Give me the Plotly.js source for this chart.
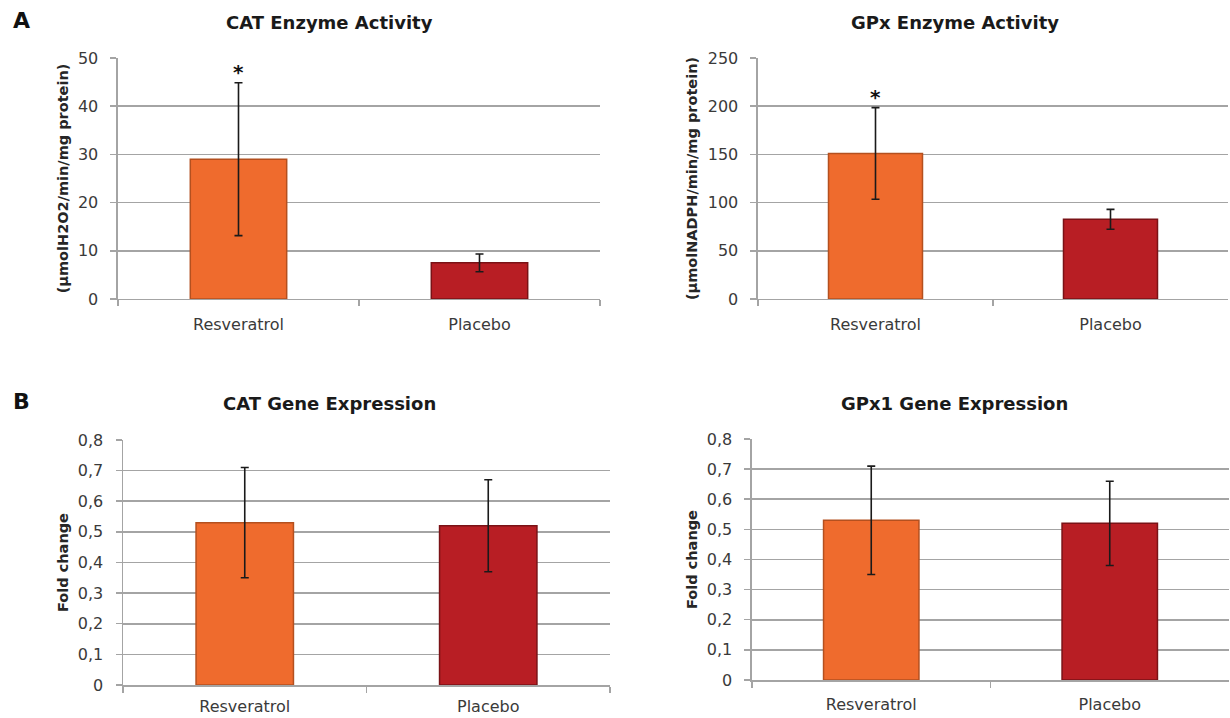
<!DOCTYPE html>
<html>
<head>
<meta charset="utf-8">
<script src="https://cdn.plot.ly/plotly-3.0.1.min.js"></script>
<style>html,body{margin:0;padding:0;background:#fff;}#chart{width:1230px;height:718px;}</style>
</head>
<body>
<div id="chart"></div>
<script>
// ---- data ----
const groups = ["Resveratrol", "Placebo"];
const catActivity = [29.0, 7.5];
const catActivityErr = [15.85, 1.85];
const gpxActivity = [151, 82.7];
const gpxActivityErr = [47.5, 10.3];
const catGene = [0.53, 0.52];
const catGeneErr = [0.18, 0.15];
const gpx1Gene = [0.53, 0.52];
const gpx1GeneErr = [0.18, 0.14];
const significance = ["*", ""];
const panelTitles = ["CAT Enzyme Activity", "GPx Enzyme Activity", "CAT Gene Expression", "GPx1 Gene Expression"];
const yTitles = ["(µmolH2O2/min/mg protein)", "(µmolNADPH/min/mg protein)", "Fold change", "Fold change"];
const panelLetters = ["A", "B"];
const barColors = ["#EF6B2D", "#B81E24"];
const barEdge = ["#B4501F", "#7A1216"];

// ---- styling ----
const FONT = "DejaVu Sans, Arial, sans-serif";
const grid = "#a4a4a4";
const tickFont = {family: FONT, size: 16, color: "#3a3a3a"};

function barTrace(vals, errs, xa, ya) {
  return {
    type: "bar", x: groups, y: vals, xaxis: xa, yaxis: ya, width: 0.4,
    marker: {color: barColors, line: {color: barEdge, width: 1.5}},
    error_y: {type: "data", array: errs, visible: true, color: "#1a1a1a", thickness: 1.6, width: 4},
    hoverinfo: "x+y", showlegend: false
  };
}

const data = [
  barTrace(catActivity, catActivityErr, "x", "y"),
  barTrace(gpxActivity, gpxActivityErr, "x2", "y2"),
  barTrace(catGene, catGeneErr, "x3", "y3"),
  barTrace(gpx1Gene, gpx1GeneErr, "x4", "y4")
];

function xAxis(domain, anchor, standoff) {
  return {
    domain: domain, anchor: anchor, type: "category", tickson: "boundaries",
    ticks: "outside", ticklen: 6, tickcolor: grid, tickwidth: 1.5,
    showline: true, linecolor: grid, linewidth: 1.5, showgrid: false,
    tickfont: tickFont, ticklabelstandoff: standoff, fixedrange: true
  };
}
function yAxis(domain, anchor, range, dtick, title) {
  return {
    domain: domain, anchor: anchor, range: range, dtick: dtick, tick0: 0,
    ticks: "outside", ticklen: 6, tickcolor: grid, tickwidth: 1.5,
    showline: true, linecolor: grid, linewidth: 1.5,
    showgrid: true, gridcolor: grid, gridwidth: 1.6, zeroline: false,
    tickfont: tickFont, ticklabelstandoff: 9, fixedrange: true,
    title: {text: title, font: {family: FONT, size: 14.5, color: "#262626", weight: "bold"}, standoff: 6}
  };
}

const annotations = [];
const titlePos = [[0.2675, 0.968], [0.7764, 0.968], [0.2675, 0.4387], [0.7764, 0.4387]];
panelTitles.forEach((t, i) => annotations.push({
  text: "<b>" + t + "</b>", xref: "paper", yref: "paper", x: titlePos[i][0], y: titlePos[i][1],
  xanchor: "center", yanchor: "middle", showarrow: false,
  font: {family: FONT, size: 18, color: "#1a1a1a"}
}));
const letterPos = [0.9708, 0.4415];
panelLetters.forEach((t, i) => annotations.push({
  text: "<b>" + t + "</b>", xref: "paper", yref: "paper", x: 0.0171, y: letterPos[i],
  xanchor: "center", yanchor: "middle", showarrow: false,
  font: {family: FONT, size: 22, color: "#111"}
}));
// significance stars above error bars
[[catActivity, catActivityErr, "x", "y"], [gpxActivity, gpxActivityErr, "x2", "y2"]].forEach(([v, e, xa, ya]) => {
  groups.forEach((g, j) => {
    if (significance[j]) annotations.push({
      text: "<b>" + significance[j] + "</b>", xref: xa, yref: ya, x: g, y: v[j] + e[j],
      xanchor: "center", yanchor: "bottom", yshift: -3, showarrow: false,
      font: {family: FONT, size: 20, color: "#111"}
    });
  });
});

const layout = {
  width: 1230, height: 718, margin: {l: 0, r: 0, t: 0, b: 0},
  paper_bgcolor: "#fff", plot_bgcolor: "#fff", showlegend: false,
  separators: ",.", bargap: 0.6,
  xaxis: xAxis([0.09593, 0.48780], "y", 10),
  yaxis: yAxis([0.58357, 0.91922], "x", [0, 50], 10, yTitles[0]),
  xaxis2: xAxis([0.61626, 0.99837], "y2", 10),
  yaxis2: yAxis([0.58357, 0.91922], "x2", [0, 250], 50, yTitles[1]),
  xaxis3: xAxis([0.1, 0.49593], "y3", 6),
  yaxis3: yAxis([0.04596, 0.38719], "x3", [0, 0.8], 0.1, yTitles[2]),
  xaxis4: xAxis([0.61138, 0.99919], "y4", 9),
  yaxis4: yAxis([0.05292, 0.38858], "x4", [0, 0.8], 0.1, yTitles[3]),
  annotations: annotations
};

Plotly.newPlot("chart", data, layout, {staticPlot: true, displayModeBar: false});
</script>
</body>
</html>
